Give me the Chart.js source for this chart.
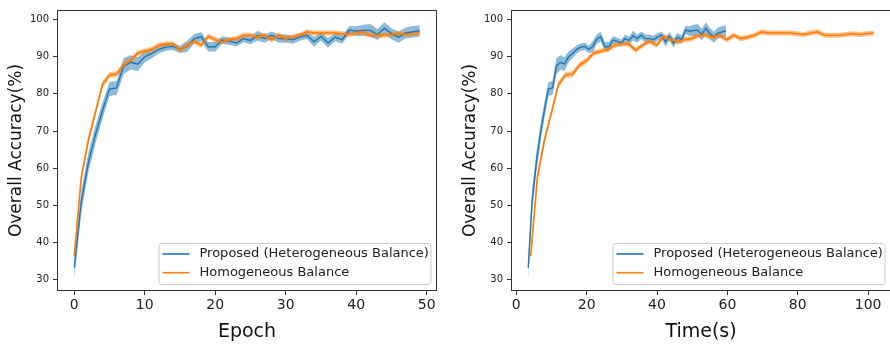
<!DOCTYPE html>
<html>
<head>
<meta charset="utf-8">
<script src="https://cdn.jsdelivr.net/npm/chart.js@4.4.0/dist/chart.umd.min.js"></script>
<style>
  html, body { margin: 0; padding: 0; background: #fff; overflow: hidden; width: 890px; height: 347px; }
  #left { position: absolute; left: 0; top: 0; }
  #right { position: absolute; left: 445px; top: 0; }
</style>
</head>
<body>
<canvas id="left" width="445" height="347"></canvas>
<canvas id="right" width="450" height="347"></canvas>
<script>
// values
const epochs = [0,1,2,3,4,5,6,7,8,9,10,11,12,13,14,15,16,17,18,19,20,21,22,23,24,25,26,27,28,29,
  30,31,32,33,34,35,36,37,38,39,40,41,42,43,44,45,46,47,48,49];

const proposedAcc = [33.2, 51.0, 61.5, 69.0, 75.5, 81.3, 81.6, 87.5, 88.5, 88.0, 90.0, 90.9, 92.0, 92.6, 92.8,
  92.0, 92.8, 94.8, 95.4, 92.7, 92.7, 94.5, 94.2, 93.7, 94.9, 94.4, 95.7, 94.9, 95.8, 94.9,
  94.9, 94.6, 95.3, 95.8, 94.0, 95.5, 93.7, 95.3, 94.6, 97.2, 96.9, 97.1, 97.1, 96.0, 97.7,
  96.2, 95.3, 96.4, 96.7, 97.0];
const proposedStd = [3.0, 3.0, 2.7, 2.5, 2.2, 1.9, 1.9, 2.2, 1.9, 1.9, 1.5, 1.3, 1.1, 1.0, 1.0,
  1.0, 1.5, 1.3, 1.3, 1.3, 1.3, 1.0, 1.0, 0.9, 1.0, 1.0, 1.3, 1.1, 1.0, 1.1,
  1.1, 1.1, 1.0, 1.0, 1.3, 1.1, 1.3, 1.1, 1.1, 1.1, 1.3, 1.5, 1.7, 1.5, 1.6,
  1.5, 1.5, 1.5, 1.6, 1.5];

const homogAcc = [36.3, 57.5, 67.5, 75.0, 82.5, 85.1, 85.3, 87.8, 89.0, 91.0, 91.5, 92.0, 93.1, 93.5, 93.5,
  91.8, 93.1, 94.2, 93.1, 95.5, 94.6, 94.0, 94.6, 94.9, 95.8, 95.8, 95.3, 95.8, 94.6, 95.8,
  94.9, 95.3, 95.8, 96.7, 96.4, 96.4, 96.4, 96.4, 96.2, 96.0, 96.4, 96.7, 95.8, 95.8, 95.8,
  96.0, 96.2, 96.0, 96.2, 96.4];
const homogStd = [1.2, 1.2, 1.1, 1.0, 0.9, 0.8, 0.8, 0.8, 0.8, 0.7, 0.7, 0.7, 0.7, 0.7, 0.7,
  0.7, 0.7, 0.7, 0.7, 0.7, 0.7, 0.7, 0.7, 0.7, 0.7, 0.7, 0.7, 0.7, 0.7, 0.7,
  0.7, 0.7, 0.7, 0.7, 0.7, 0.7, 0.7, 0.7, 0.7, 0.7, 0.7, 0.7, 0.7, 0.7, 0.7,
  0.7, 0.7, 0.7, 0.7, 0.7];

const proposedTime = [3.4, 4.5, 5.7, 6.8, 8.0, 9.1, 10.3, 11.4, 12.6, 13.7, 14.9, 16.0, 17.2, 18.3, 19.5,
  20.6, 21.8, 22.9, 24.0, 25.2, 26.3, 27.5, 28.6, 29.8, 30.9, 32.1, 33.2, 34.4, 35.5, 36.7,
  37.8, 39.0, 40.1, 41.3, 42.4, 43.5, 44.7, 45.8, 47.0, 48.1, 49.3, 50.4, 51.6, 52.7, 53.9,
  55.0, 56.2, 57.3, 58.5, 59.6];
const homogTime = [4.1, 6.0, 8.0, 10.0, 12.0, 14.0, 16.0, 18.0, 20.0, 22.0, 24.0, 26.0, 28.0, 30.0, 31.9,
  33.9, 35.9, 37.9, 39.9, 41.9, 43.9, 45.9, 47.8, 49.8, 51.8, 53.8, 55.8, 57.8, 59.8, 61.8,
  63.8, 65.8, 67.7, 69.7, 71.7, 73.7, 75.7, 77.7, 79.7, 81.7, 83.7, 85.7, 87.6, 89.6, 91.6,
  93.6, 95.6, 97.6, 99.6, 101.6];

const yTicks = [30, 40, 50, 60, 70, 80, 90, 100];
const epochTicks = [0, 10, 20, 30, 40, 50];
const timeTicks = [0, 20, 40, 60, 80, 100];
const legendLabels = ['Proposed (Heterogeneous Balance)', 'Homogeneous Balance'];

const BLUE = '#1f77b4';
const ORANGE = '#ff7f0e';
Chart.defaults.font.family = "'DejaVu Sans', sans-serif";

function pts(xs, ys, off, sign) {
  return xs.map((x, i) => ({ x: x, y: ys[i] + (off ? sign * off[i] : 0) }));
}

const framePlugin = {
  id: 'frameLegend',
  afterDraw: (chart) => {
    const { ctx, chartArea } = chart;
    ctx.save();
    ctx.strokeStyle = '#333';
    ctx.lineWidth = 1;
    ctx.strokeRect(Math.round(chartArea.left) + 0.5, Math.round(chartArea.top) + 0.5,
      Math.round(chartArea.right - chartArea.left) - 1, Math.round(chartArea.bottom - chartArea.top) - 1);

    // legend box, lower right
    const w = 272, h = 41;
    const bx = chartArea.right - 6.5 - w;
    const by = chartArea.bottom - 7 - h;
    ctx.beginPath();
    ctx.roundRect(bx + 0.5, by + 0.5, w, h, 3);
    ctx.fillStyle = 'rgba(255,255,255,0.8)';
    ctx.fill();
    ctx.strokeStyle = '#cccccc';
    ctx.stroke();
    const colors = [BLUE, ORANGE];
    ctx.font = "13px 'DejaVu Sans'";
    ctx.textBaseline = 'middle';
    legendLabels.forEach((label, i) => {
      const y = by + 11 + i * 18.7;
      ctx.beginPath();
      ctx.strokeStyle = colors[i];
      ctx.lineWidth = 1.6;
      ctx.moveTo(bx + 4, y);
      ctx.lineTo(bx + 31, y);
      ctx.stroke();
      ctx.fillStyle = '#222';
      ctx.fillText(label, bx + 41, y);
    });
    ctx.restore();
  }
};

function makeChart(id, xsP, xsH, xMin, xMax, xTicks, xTitle, yWidth, yTitlePad, rightPad) {
  return new Chart(document.getElementById(id), {
    type: 'line',
    data: {
      datasets: [
        { data: pts(xsP, proposedAcc, proposedStd, -1), borderWidth: 0, borderColor: 'transparent', pointRadius: 0, fill: false, order: 4 },
        { data: pts(xsP, proposedAcc, proposedStd, 1), borderWidth: 0, borderColor: 'transparent', pointRadius: 0,
          fill: { target: 0 }, backgroundColor: 'rgba(31,119,180,0.5)', order: 4 },
        { data: pts(xsH, homogAcc, homogStd, -1), borderWidth: 0, borderColor: 'transparent', pointRadius: 0, fill: false, order: 3 },
        { data: pts(xsH, homogAcc, homogStd, 1), borderWidth: 0, borderColor: 'transparent', pointRadius: 0,
          fill: { target: 2 }, backgroundColor: 'rgba(255,127,14,0.5)', order: 3 },
        { data: pts(xsP, proposedAcc), borderColor: BLUE, borderWidth: 1.4, pointRadius: 0, fill: false, order: 2 },
        { data: pts(xsH, homogAcc), borderColor: ORANGE, borderWidth: 1.7, pointRadius: 0, fill: false, order: 1 }
      ]
    },
    options: {
      responsive: false,
      devicePixelRatio: 1,
      animation: false,
      events: [],
      layout: { padding: { top: 6, right: rightPad, left: 0, bottom: 0 } },
      elements: { line: { tension: 0 } },
      plugins: { legend: { display: false }, tooltip: { enabled: false } },
      scales: {
        x: {
          type: 'linear', min: xMin, max: xMax,
          afterBuildTicks: s => { s.ticks = xTicks.map(v => ({ value: v })); },
          afterFit: s => { s.height = 56; },
          ticks: { font: { size: 14 }, color: '#222', padding: 2, maxRotation: 0, autoSkip: false, callback: v => String(v) },
          grid: { drawOnChartArea: false, drawTicks: true, tickLength: 4, color: '#333' },
          border: { display: false },
          title: { display: true, text: xTitle, font: { size: 19 }, color: '#111', padding: { top: 0, bottom: 4 } }
        },
        y: {
          type: 'linear', min: 26.9, max: 102.6,
          afterBuildTicks: s => { s.ticks = yTicks.map(v => ({ value: v })); },
          afterFit: s => { s.width = yWidth; },
          ticks: { font: { size: 10 }, color: '#222', padding: 4, autoSkip: false, callback: v => String(v) },
          grid: { drawOnChartArea: false, drawTicks: true, tickLength: 4, color: '#333' },
          border: { display: false },
          title: { display: true, text: 'Overall Accuracy(%)', font: { size: 17 }, color: '#111', padding: { top: yTitlePad, bottom: 0 } }
        }
      }
    },
    plugins: [framePlugin]
  });
}

makeChart('left', epochs, epochs, -2.45, 51.45, epochTicks, 'Epoch', 57, 6, 8);
makeChart('right', proposedTime, homogTime, -1.5, 106.5, timeTicks, 'Time(s)', 66, 15, 4);
</script>
</body>
</html>
